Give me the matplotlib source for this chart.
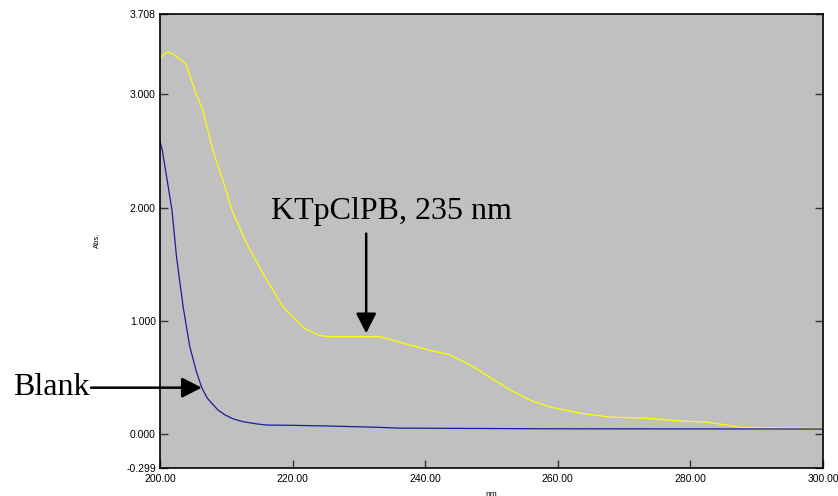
import matplotlib
matplotlib.use("Agg")
import matplotlib.pyplot as plt

# Absorbance spectra (nm, Abs.)
wl_sample = [200.0, 201.0, 201.5, 202.5, 203.9, 205.3, 206.5, 208.0, 209.5, 210.9,
             213.1, 216.1, 218.6, 221.6, 224.1, 225.6, 229.0, 231.1, 233.2, 236.2,
             240.7, 243.7, 246.8, 249.8, 252.8, 255.8, 258.8, 263.3, 267.9, 273.5,
             275.4, 278.9, 282.5, 285.5, 287.5, 290.5, 296.5, 300.0]
abs_sample = [3.32, 3.37, 3.37, 3.33, 3.27, 3.03, 2.85, 2.50, 2.24, 1.97,
              1.68, 1.36, 1.12, 0.94, 0.87, 0.86, 0.86, 0.86, 0.86, 0.81,
              0.74, 0.70, 0.61, 0.50, 0.39, 0.30, 0.24, 0.185, 0.15, 0.14,
              0.13, 0.115, 0.106, 0.08, 0.06, 0.057, 0.053, 0.05]

wl_blank = [200.0, 200.3, 201.0, 201.8, 202.5, 203.5, 204.5, 205.5, 206.3, 207.1,
            208.0, 208.8, 209.8, 211.0, 212.5, 214.6, 216.1, 219.6, 225.2, 233.0,
            236.0, 259.0, 300.0]
abs_blank = [2.58, 2.52, 2.27, 1.98, 1.56, 1.12, 0.77, 0.55, 0.41, 0.32,
             0.26, 0.21, 0.17, 0.135, 0.11, 0.09, 0.08, 0.078, 0.072, 0.06,
             0.053, 0.047, 0.045]

x_ticks = [200, 220, 240, 260, 280, 300]
y_ticks = [-0.299, 0.0, 1.0, 2.0, 3.0, 3.708]

fig = plt.figure(figsize=(8.38, 4.96), dpi=100)
ax = fig.add_axes([160 / 838, 1 - 468 / 496, (823 - 160) / 838, (468 - 14) / 496])
ax.set_facecolor("#c0c0c0")

ax.plot(wl_sample, abs_sample, color="#ffff00", lw=0.9)
ax.plot(wl_blank, abs_blank, color="#1c1c9c", lw=0.9)

ax.set_xlim(200, 300)
ax.set_ylim(-0.299, 3.708)
ax.set_xticks(x_ticks)
ax.set_xticklabels([f"{v:.2f}" for v in x_ticks], fontsize=7.5,
                   family="Liberation Sans")
ax.set_yticks(y_ticks)
ax.set_yticklabels([f"{v:.3f}" for v in y_ticks], fontsize=7.5,
                   family="Liberation Sans")
ax.tick_params(axis="both", direction="in", length=6, width=1, color="#333333")
ax.tick_params(axis="y", right=True, pad=3)
ax.tick_params(axis="x", pad=4)
for s in ax.spines.values():
    s.set_linewidth(1.2)

ax.set_xlabel("nm", fontsize=6, family="Liberation Sans", labelpad=5)
fig.text(97 / 838, 1 - 240 / 496, "Abs.", rotation=90, fontsize=5.5,
         family="Liberation Sans", ha="center", va="center")

arrow = dict(arrowstyle="-|>,head_length=0.55,head_width=0.28", color="black",
             lw=1.8, shrinkA=0, shrinkB=0, mutation_scale=22)

# Sample peak label and pointer
ax.text(234.9, 1.90, "KTpClPB, 235 nm", ha="center", va="baseline",
        fontsize=23, family="Liberation Serif")
ax.annotate("", xy=(231.1, 0.89), xytext=(231.1, 1.77), arrowprops=arrow)

# Blank label and pointer
ax.annotate("", xy=(206.3, 0.41), xytext=(189.6, 0.41),
            annotation_clip=False, arrowprops=arrow)
fig.text(13 / 838, 1 - 395 / 496, "Blank", fontsize=23,
         family="Liberation Serif", ha="left", va="baseline")

fig.savefig("out.png", dpi=100, facecolor="white")
